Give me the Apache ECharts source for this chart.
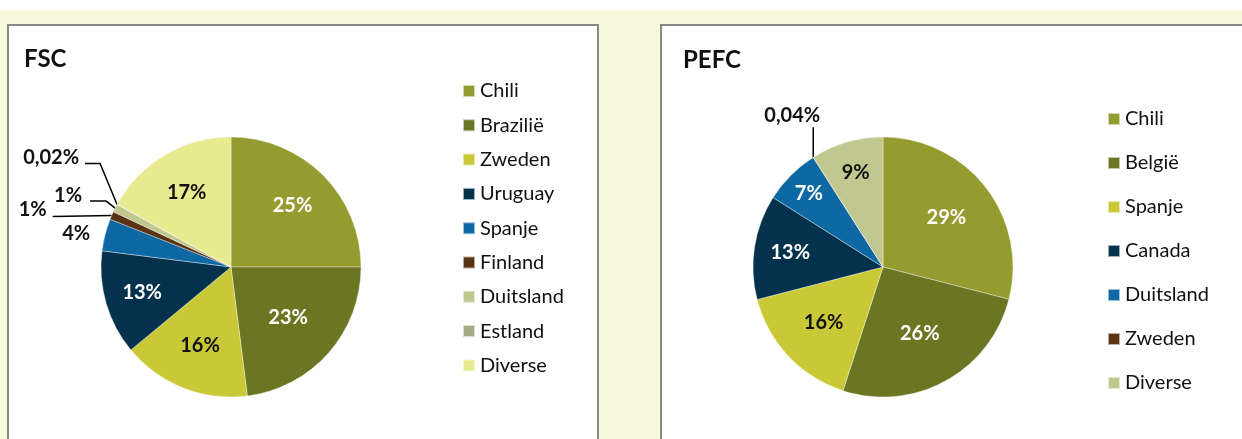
<!DOCTYPE html>
<html>
<head>
<meta charset="utf-8">
<script src="https://cdn.jsdelivr.net/npm/echarts@6/dist/echarts.min.js"></script>
<style>
  html, body { margin: 0; padding: 0; background: #fff; }
  #chart { width: 1242px; height: 439px; }
</style>
</head>
<body>
<div id="chart"></div>
<script>
// FSC
const fscNames = ["Chili", "Brazilië", "Zweden", "Uruguay", "Spanje", "Finland", "Duitsland", "Estland", "Diverse"];
const fscValues = [25, 23, 16, 13, 4, 1, 1, 0.02, 17];

// PEFC
const pefcNames = ["Chili", "België", "Spanje", "Canada", "Duitsland", "Zweden", "Diverse"];
const pefcValues = [29, 26, 16, 13, 7, 0.04, 9];

const fscColors = ["#949c30", "#6b7522", "#c9c938", "#04324c", "#0d68a4", "#5a3214", "#c0c78f", "#a6aa89", "#e8ea8f"];
const pefcColors = ["#949c30", "#6b7522", "#c9c938", "#04324c", "#0d68a4", "#5a3214", "#c0c78f"];

const font = "Lato";
const pieRadius = 130;
const fscCenter = [231, 267];
const pefcCenter = [883, 267];

// slices with white label text
const fscWhite = ["Chili", "Brazilië", "Uruguay"];
const pefcWhite = ["Chili", "België", "Canada", "Duitsland"];

// inside labels: distance from centre as part of the radius
const fscInside = { Chili: 0.64, Brazilië: 0.56, Zweden: 0.62, Uruguay: 0.68, Diverse: 0.64 };
const pefcInside = { Chili: 0.59, België: 0.56, Spanje: 0.6, Canada: 0.69, Duitsland: 0.77, Diverse: 0.72 };

// outside labels without a line
const fscPlain = ["Spanje"];
const pefcPlain = [];

// leader lines, offsets from the slice edge
const fscLeaders = {
  Finland: { bend: [0, 0], end: [-59, 1], dx: -6, dy: -7, align: "right" },
  Duitsland: { bend: [-9, -7], end: [-25, -7], dx: -8, dy: -6, align: "right" },
  Estland: { bend: [-17, -41], end: [-32, -41], dx: -6, dy: -6, align: "right" },
};
const pefcLeaders = {
  Zweden: { bend: [0, -15], end: [0, -30], dx: -21, dy: -12, align: "center" },
};

const pctText = (v) => String(v).replace(".", ",") + "%";

const buildData = (names, values, colors, white, leaders, plain) =>
  names.map((name, i) => {
    const outside = !!leaders[name] || plain.includes(name);
    return {
      name,
      value: values[i],
      itemStyle: { color: colors[i] },
      label: {
        position: outside ? "outside" : "inside",
        color: !outside && white.includes(name) ? "#fff" : "#111",
      },
      labelLine: { show: !!leaders[name], length: 5, length2: 5 },
    };
  });

const makeLayout = (names, center, inside, leaders) => (params) => {
  const name = names[params.dataIndex];
  const r = params.labelRect;
  if (inside[name]) {
    const k = inside[name] / 0.5;
    const cx = r.x + r.width / 2;
    const cy = r.y + r.height / 2;
    return {
      x: center[0] + (cx - center[0]) * k,
      y: center[1] + (cy - center[1]) * k,
      align: "center",
      verticalAlign: "middle",
    };
  }
  const lead = leaders[name];
  if (lead && params.labelLinePoints) {
    const p0 = params.labelLinePoints[0];
    const bend = [p0[0] + lead.bend[0], p0[1] + lead.bend[1]];
    const end = [p0[0] + lead.end[0], p0[1] + lead.end[1]];
    return {
      labelLinePoints: [p0, bend, end],
      x: end[0] + lead.dx,
      y: end[1] + lead.dy,
      align: lead.align,
      verticalAlign: "middle",
    };
  }
};

const legendData = (names, colors) =>
  names.map((name, i) => ({ name, itemStyle: { color: colors[i] } }));

const pieSeries = (name, names, values, colors, center, white, inside, leaders, plain) => ({
  name,
  type: "pie",
  radius: pieRadius,
  center,
  startAngle: 90,
  clockwise: true,
  avoidLabelOverlap: false,
  itemStyle: { borderColor: "rgba(255,255,255,0.6)", borderWidth: 0.6 },
  label: {
    show: true,
    fontFamily: font,
    fontSize: 20,
    fontWeight: "bold",
    formatter: (p) => pctText(p.value),
  },
  labelLine: { lineStyle: { color: "#000", width: 1.5 } },
  emphasis: { scale: false },
  labelLayout: makeLayout(names, center, inside, leaders),
  data: buildData(names, values, colors, white, leaders, plain),
});

const legendBase = {
  orient: "vertical",
  icon: "rect",
  itemWidth: 12,
  itemHeight: 12,
  padding: 0,
  selectedMode: false,
  textStyle: { fontFamily: font, fontSize: 20, color: "#111", lineHeight: 22 },
};

const chart = echarts.init(document.getElementById("chart"));

chart.setOption({
  animation: false,
  backgroundColor: "#fff",
  graphic: [
    { type: "rect", z: -10, shape: { x: 0, y: 10, width: 1242, height: 429 }, style: { fill: "#f7f8dc" } },
    { type: "rect", z: -9, shape: { x: 8, y: 25, width: 590, height: 430 }, style: { fill: "#fff", stroke: "#888", lineWidth: 2 } },
    { type: "rect", z: -9, shape: { x: 661, y: 25, width: 600, height: 430 }, style: { fill: "#fff", stroke: "#888", lineWidth: 2 } },
  ],
  title: [
    { text: "FSC", left: 24, top: 47, padding: 0, textStyle: { fontFamily: font, fontSize: 24, fontWeight: "bold", color: "#111" } },
    { text: "PEFC", left: 683, top: 48, padding: 0, textStyle: { fontFamily: font, fontSize: 24, fontWeight: "bold", color: "#111" } },
  ],
  legend: [
    { ...legendBase, left: 462, top: 80, itemGap: 12.3, data: legendData(fscNames, fscColors) },
    { ...legendBase, left: 1107, top: 108, itemGap: 22, data: legendData(pefcNames, pefcColors) },
  ],
  series: [
    pieSeries("FSC", fscNames, fscValues, fscColors, fscCenter, fscWhite, fscInside, fscLeaders, fscPlain),
    pieSeries("PEFC", pefcNames, pefcValues, pefcColors, pefcCenter, pefcWhite, pefcInside, pefcLeaders, pefcPlain),
  ],
});
</script>
</body>
</html>
